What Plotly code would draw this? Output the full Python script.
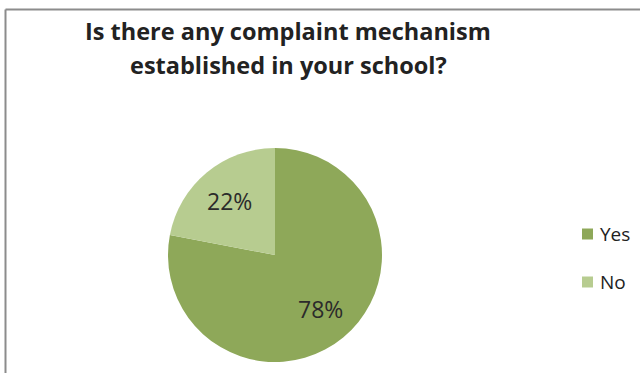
import math
import plotly.graph_objects as go

# Survey answers and their shares
answers = ["Yes", "No"]
shares = [78, 22]
slice_colors = ["#8EA859", "#B7CC90"]

title_lines = ["Is there any complaint mechanism", "established in your school?"]

W, H = 640, 373
FONT = "Open Sans"

# pie placement (pixels)
cx, cy, radius = 275, 255, 107

fig = go.Figure()
fig.add_trace(go.Pie(
    labels=answers,
    values=shares,
    sort=False,
    direction="clockwise",
    rotation=0,
    marker=dict(colors=slice_colors, line=dict(width=0)),
    textinfo="none",
    domain=dict(x=[(cx - radius) / W, (cx + radius) / W],
                y=[(H - cy - radius) / H, (H - cy + radius) / H]),
    showlegend=False,
    hoverinfo="label+percent",
))

shapes = [
    # outer frame (top and left edges)
    dict(type="line", xref="paper", yref="paper", x0=5.5 / W, x1=1, y0=1 - 9.5 / H, y1=1 - 9.5 / H,
         line=dict(color="#8c8c8c", width=2)),
    dict(type="line", xref="paper", yref="paper", x0=5.5 / W, x1=5.5 / W, y0=0, y1=1 - 9.5 / H,
         line=dict(color="#8c8c8c", width=2)),
]

annotations = []
# two title lines
for line, ty in zip(title_lines, [31, 65]):
    annotations.append(dict(text="<b>" + line + "</b>", xref="paper", yref="paper",
                            x=288 / W, y=1 - ty / H, xanchor="center", yanchor="middle",
                            showarrow=False, font=dict(family=FONT, size=23.5, color="#222222")))

# percentage labels placed along each slice's mid-angle
total = sum(shares)
start = 0.0
for value in shares:
    frac = value / total
    mid = (start + frac / 2) * 2 * math.pi
    start += frac
    px = cx + 0.66 * radius * math.sin(mid)
    py = cy - 0.66 * radius * math.cos(mid)
    annotations.append(dict(text=f"{round(100 * frac)}%", xref="paper", yref="paper",
                            x=px / W, y=1 - py / H, xanchor="center", yanchor="middle",
                            showarrow=False, font=dict(family=FONT, size=23, color="#2b2b2b")))

# legend: colour squares with answer labels
legend_y = [234, 282]
for name, color, ly in zip(answers, slice_colors, legend_y):
    shapes.append(dict(type="rect", xref="paper", yref="paper",
                       x0=582 / W, x1=593 / W, y0=1 - (ly + 5.5) / H, y1=1 - (ly - 5.5) / H,
                       fillcolor=color, line=dict(width=0)))
    annotations.append(dict(text=name, xref="paper", yref="paper", x=598 / W, y=1 - ly / H,
                            xanchor="left", yanchor="middle", showarrow=False,
                            font=dict(family=FONT, size=19, color="#222222")))

fig.update_layout(
    width=W, height=H,
    margin=dict(l=0, r=0, t=0, b=0),
    paper_bgcolor="white",
    plot_bgcolor="white",
    shapes=shapes,
    annotations=annotations,
)

fig.write_html("out.html")
